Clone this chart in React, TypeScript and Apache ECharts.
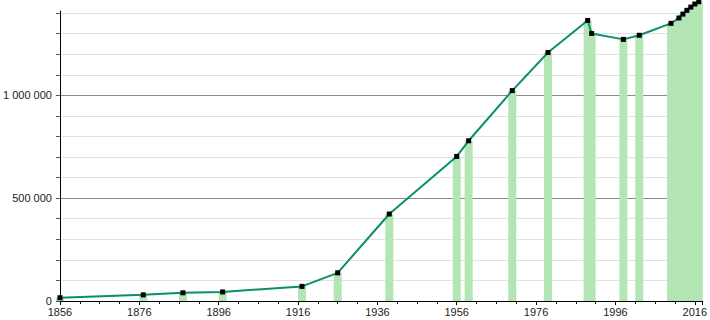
import React, { useEffect, useRef } from "react";
import * as echarts from "echarts";

const years = [1856, 1877, 1887, 1897, 1917, 1926, 1939, 1956, 1959, 1970, 1979, 1989, 1990, 1998, 2002, 2010, 2012, 2013, 2014, 2015, 2016, 2017];
const population = [16000, 30000, 40000, 44000, 71000, 137000, 423000, 703000, 779000, 1023000, 1208000, 1364000, 1301000, 1272000, 1292000, 1350000, 1376000, 1395000, 1413000, 1429000, 1444000, 1455000];
const xLabelYears = [1856, 1876, 1896, 1916, 1936, 1956, 1976, 1996, 2016];
const yLabelValues = [0, 500000, 1000000];

const fmt = (v: number) => String(Math.round(v)).replace(/\B(?=(\d{3})+(?!\d))/g, " ");

export default function App() {
  const ref = useRef<HTMLDivElement>(null);
  useEffect(() => {
    if (!ref.current) return;
    const chart = echarts.init(ref.current, null, { renderer: "svg" });
    const pts = years.map((y, i) => [y, population[i]]);
    const gridColors: string[] = [];
    for (let v = 0; v <= 1400000; v += 100000) {
      gridColors.push(v % 500000 === 0 ? "#8a8a8a" : "#e2e2e2");
    }
    chart.setOption({
      animation: false,
      grid: { left: 56, right: 6, top: 11, bottom: 19 },
      xAxis: {
        type: "value",
        min: 1856,
        max: 2018,
        interval: 20,
        axisLine: { show: true, lineStyle: { color: "#000", width: 1 } },
        axisTick: { show: true, length: 4, lineStyle: { color: "#000" } },
        minorTick: { show: true, splitNumber: 4, length: 3, lineStyle: { color: "#000" } },
        splitLine: { show: false },
        axisLabel: {
          color: "#222",
          fontSize: 11,
          fontFamily: "Liberation Sans, Arial, sans-serif",
          margin: 5,
          showMaxLabel: false,
          formatter: (v: number) => (xLabelYears.includes(v) ? String(v) : ""),
        },
      },
      yAxis: {
        type: "value",
        min: 0,
        max: 1410000,
        interval: 100000,
        axisLine: { show: true, lineStyle: { color: "#000", width: 1 } },
        axisTick: { show: true, length: 4, lineStyle: { color: "#555" } },
        splitLine: { show: true, showMaxLine: false, lineStyle: { color: gridColors, width: 1 } },
        axisLabel: {
          color: "#222",
          fontSize: 11,
          fontFamily: "Liberation Sans, Arial, sans-serif",
          margin: 8,
          showMaxLabel: false,
          formatter: (v: number) => (yLabelValues.includes(v) ? fmt(v) : ""),
        },
      },
      series: [
        {
          type: "bar",
          data: pts,
          barWidth: 8,
          clip: false,
          itemStyle: { color: "#b4e5b4" },
          z: 1,
        },
        {
          type: "line",
          data: pts,
          clip: false,
          symbol: "rect",
          symbolSize: 5,
          itemStyle: { color: "#000" },
          lineStyle: { color: "#0a8f6c", width: 2 },
          z: 3,
        },
      ],
    });
    return () => chart.dispose();
  }, []);
  return <div ref={ref} style={{ position: "absolute", left: 0, top: 0, width: 710, height: 320 }} />;
}
